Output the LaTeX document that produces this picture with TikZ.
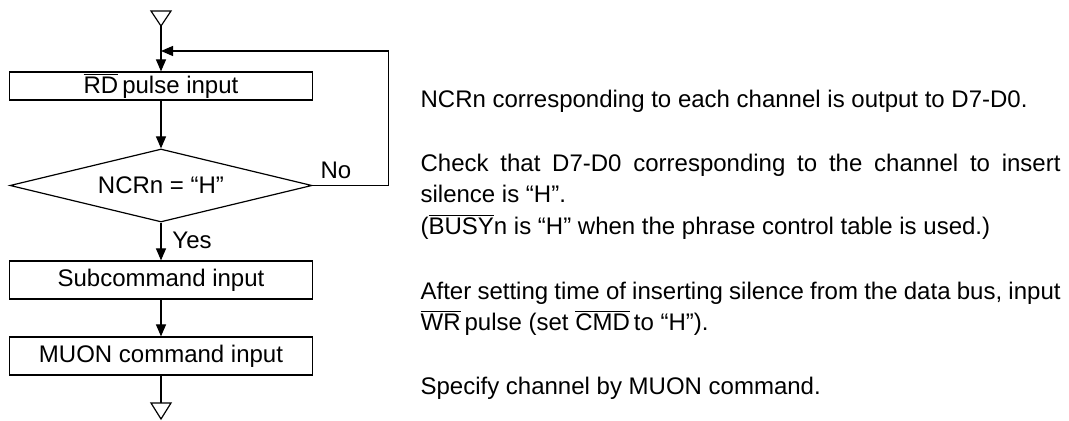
\documentclass[tikz,border=0pt]{standalone}
\usepackage{fontspec}
\setmainfont{Liberation Sans}
\usetikzlibrary{arrows.meta,shapes.geometric}
\newcommand\ovl[1]{$\overline{\mbox{#1}}$}
\begin{document}
\begin{tikzpicture}[x=0.5pt,y=-0.5pt,line width=0.6pt,
  font=\fontsize{12}{15.75}\selectfont,
  box/.style={draw,minimum width=151.5pt,inner sep=0pt},
  dec/.style={draw,diamond,aspect=4.14,minimum width=151pt,minimum height=36.5pt,inner sep=0pt},
  arr/.style={-{Triangle[length=6pt,width=5pt]}},
  note/.style={anchor=base west,inner sep=0pt}]
\useasboundingbox (0,0) rectangle (1069,421);
% flow chart
\coordinate (s) at (161,26);
\draw (s) -- ++(-10,-15) -- ++(20,0) -- cycle;
\node[box,minimum height=14pt] (rd) at (161,86) {\ovl{RD}\,pulse input};
\node[dec] (dec) at (161,185.5) {NCRn = “H”};
\node[box,minimum height=19pt] (sub) at (161,280) {Subcommand input};
\node[box,minimum height=19pt] (muon) at (161,356) {MUON command input};
\coordinate (join) at (161,51);
\coordinate (e) at (161,403);
\draw[arr] (s) -- (rd.north);
\draw[arr] (rd.south) -- (dec.north);
\draw[arr] (dec.east) -- ++(76,0) |- (join);
\draw[arr] (dec.south) -- (sub.north);
\draw[arr] (sub.south) -- (muon.north);
\draw (muon.south) -- (e);
\draw (e) ++(-10,0) -- ++(20,0) -- ++(-10,16) -- cycle;
\node (no) at (336,170) {No};
\node (yes) at (192,240) {Yes};
% notes
\node[note] (t1) at (420,108) {NCRn corresponding to each channel is output to D7-D0.};
\node[note] (t2) at (420,172) {\makebox[320pt][s]{Check that D7-D0 corresponding to the channel to insert}};
\node[note] (t3) at (420,203) {silence is “H”.};
\node[note] (t4) at (420,235) {(\ovl{BUSY}n is “H” when the phrase control table is used.)};
\node[note] (t5) at (420,300) {\makebox[320pt][s]{After setting time of inserting silence from the data bus, input}};
\node[note] (t6) at (420,331) {\ovl{WR}\,pulse (set \ovl{CMD}\,to “H”).};
\node[note] (t7) at (420,394) {Specify channel by MUON command.};
\end{tikzpicture}
\end{document}
